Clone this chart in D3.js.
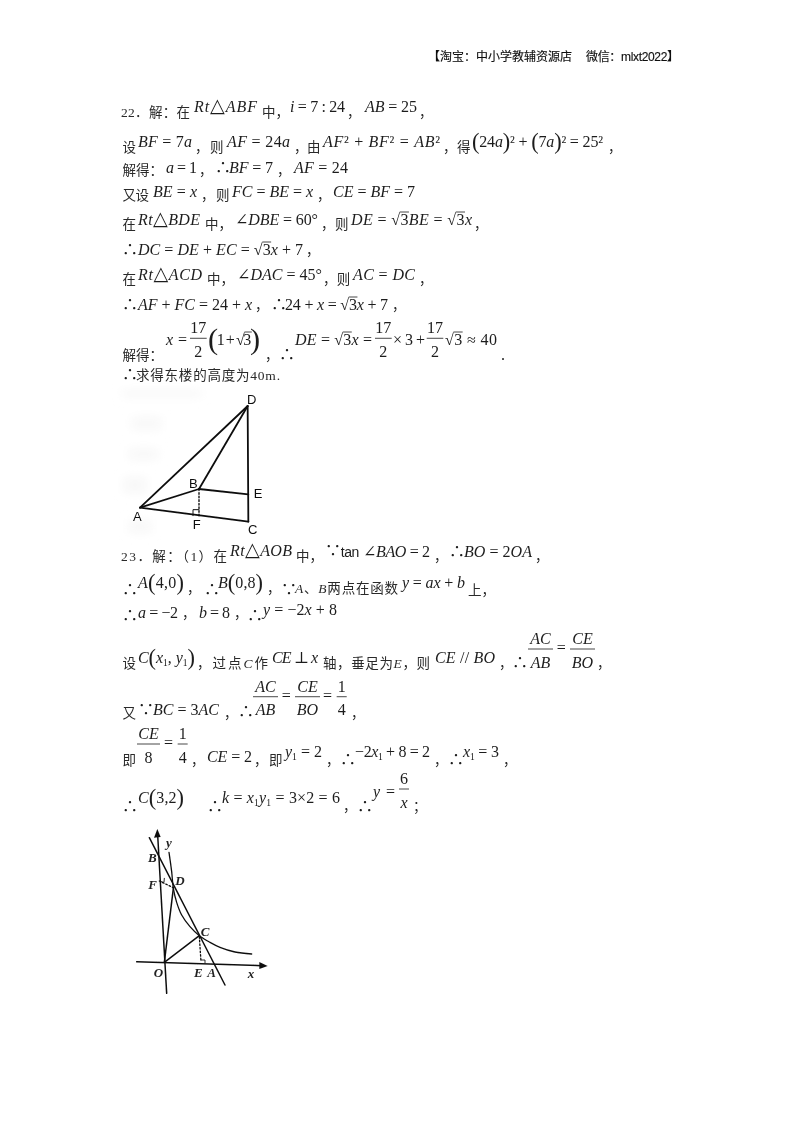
<!DOCTYPE html>
<html><head><meta charset="utf-8">
<script src="https://cdn.jsdelivr.net/npm/d3@7"></script>
<style>html,body{margin:0;padding:0;background:#fff}svg{display:block}</style>
</head><body><div id="page"></div>
<script>
// ---------- content ----------
const headerText = "【淘宝：中小学教辅资源店";
const headerText2 = "微信：mlxt2022】";

const lineTexts = [
 ["c|22．解：在","m|Rt△ABF","c|中，","m|i = 7 : 24","c|，","m|AB = 25","c|，"],
 ["c|设","m|BF = 7a","c|，","c|则","m|AF = 24a","c|，","c|由","m|AF² + BF² = AB²","c|，","c|得","m|(24a)² + (7a)² = 25²","c|，"],
 ["c|解得：","m|a = 1","c|，","m|∴","m|BF = 7","c|，","m|AF = 24"],
 ["c|又设","m|BE = x","c|，","c|则","m|FC = BE = x","c|，","m|CE = BF = 7"],
 ["c|在","m|Rt△BDE","c|中，","m|∠DBE = 60°","c|，","c|则","m|DE = √3BE = √3x","c|，"],
 ["m|∴","m|DC = DE + EC = √3x + 7","c|，"],
 ["c|在","m|Rt△ACD","c|中，","m|∠DAC = 45°","c|，","c|则","m|AC = DC","c|，"],
 ["m|∴","m|AF + FC = 24 + x","c|，","m|∴","m|24 + x = √3x + 7","c|，"],
 ["c|解得：","m|x =","p|(1 + √3)","c|，","m|∴","m|DE = √3x =","m|× 3 +","m|√3 ≈ 40","m|."],
 ["m|∴","c|求得东楼的高度为40m."],
 ["c|23．解：（1）在","m|Rt△AOB","c|中，","m|∵","u|tan","m|∠BAO = 2","c|，","m|∴","m|BO = 2OA","c|，"],
 ["m|∴","m|A(4,0)","c|，","m|∴","m|B(0,8)","c|，","m|∵","i|A、B 两点在函数","m|y = ax + b","c|上，"],
 ["m|∴","m|a = −2","c|，","m|b = 8","c|，","m|∴","m|y = −2x + 8"],
 ["c|设","m|C(x~1, y~1)","i|，过点 C 作","m|CE ⊥ x","i|轴，垂足为 E，则","m|CE // BO","c|，","m|∴","m|=","c|，"],
 ["c|又","m|∵","m|BC = 3AC","c|，","m|∴","m|=","m|=","c|，"],
 ["c|即","m|=","c|，","m|CE = 2","c|，","c|即","m|y~1 = 2","c|，","m|∴","m|−2x~1 + 8 = 2","c|，","m|∴","m|x~1 = 3","c|，"],
 ["m|∴","m|C(3,2)","m|∴","m|k = x~1y~1 = 3×2 = 6","c|，","m|∴","m|y =","c|；"]
];

const fractionNumerators   = ["17","17","17","AC","CE","AC","CE","1","CE","1","6"];
const fractionDenominators = ["2","2","2","AB","BO","AB","BO","4","8","4","x"];

const figure1Labels = ["D","A","B","E","F","C"];
const figure2Labels = ["y","B","F","D","C","O","E","A","x"];

// figure coordinates, in each figure's own units
const fig1Points = {D:[443,78],A:[120,383],B:[297,327],E:[445,343],C:[445,425],F:[297,410]};
const fig1Segments = [["A","D"],["A","B"],["B","D"],["B","E"],["A","C"],["D","C"]];
const fig1Dotted = [[[297,327],[297,410]]];
const fig1Mark = [[279,407],[279,389],[297,389]];
const fig1LabelAt = [[455,58],[112,410],[280,310],[474,340],[290,432],[458,448]];
const fig1Smudges = [[65,30,240,22],[95,110,90,40],[85,205,90,35],[70,290,70,50],[85,420,70,40]];

const fig2Axes = [[[50,410],[425,422]],[[140,505],[113,30]]];
const fig2Lines = [[[88,38],[315,480]],[[133,412],[160,190]],[[133,412],[238,332]]];
const fig2Curve = [[147,82],[155,140],[160,190],[170,232],[185,270],[210,305],[238,332],[270,352],[300,367],[345,381],[395,387]];
const fig2Dotted = [[[238,335],[243,410]],[[118,168],[160,188]]];
const fig2Marks = [[[243,405],[255,405],[255,414]],[[122,170],[132,172],[133,160]]];
const fig2Arrows = [[[443,423],[418,411],[418,432]],[[112,12],[102,38],[122,36]]];
const fig2LabelAt = [[147,52],[97,97],[98,178],[180,167],[255,320],[115,442],[235,443],[275,443],[393,447]];

// ---------- layout ----------
const lineBoxes = [
 [[121,190,116.7],[194,257,111.7],[262,null,116.7],[290,345,111.7],[347,null,116.7],[365,417,111.7],[419,null,116.7]],
 [[122.5,null,151.7],[138,192,146.7],[195,null,151.7],[210,null,151.7],[227,290,146.7],[294,null,151.7],[307,null,151.7],[323,440,146.7],[443,null,151.7],[457,null,151.7],[472,603,146.7],[608,null,151.7]],
 [[122.5,null,175],[166,197,173],[199,null,175],[215,null,173],[229,273,173],[277,null,175],[294,348,173]],
 [[122.5,149,200],[153,197,196.7],[201,null,200],[216,null,200],[232,313,196.7],[317,null,200],[333,415,196.7]],
 [[122.5,null,229.3],[138,200,225],[205,null,229.3],[235,318,225],[321,null,229.3],[335,null,229.3],[351,472,225],[474,null,229.3]],
 [[122,null,255],[138,303,255],[306,null,255]],
 [[122.5,null,284.3],[138,202,280],[207,null,284.3],[237,322,280],[323,null,284.3],[336.7,null,284.3],[353,415,280],[419,null,284.3]],
 [[122,null,310],[138,252,310],[255,null,310],[271,null,310],[285,388,310],[392,null,310]],
 [[122.5,null,360],[166,187,345],[208,260,345],[265,null,360],[279,null,360],[295,372,345],[393,425,345],[445,497,345],[501,null,360]],
 [[122,null,380],[136,280,380]],
 [[121,227,560.7],[230,292,556],[296,null,560.7],[325,null,556],[340.7,359.3,556.7],[363,430,556.7],[434,null,560.7],[449,null,556.7],[464,532,556.7],[535,null,560.7]],
 [[122,null,595],[138,184,588],[187,null,593.3],[204,null,595],[218,263,588],[267,null,593.3],[281,null,595],[295,398,593.3],[402,465,588],[468,null,595]],
 [[122,null,621],[138,178,618.3],[182,null,618.3],[199,230,618.3],[234,null,618.3],[247,null,621],[263,337,615]],
 [[122.5,null,668.3],[138,195,663],[197,268,668.3],[272,318,663],[323,430,668.3],[435,495,663],[499,null,668.3],[512,null,668.3],[556.7,566,653],[597,null,668.3]],
 [[122.5,null,718.3],[138,null,715],[153,219,715],[224,null,718.3],[238,null,717],[281.7,291.7,701],[323,333,701],[351,null,718.3]],
 [[122.5,null,765],[164,174,748],[191,null,765],[207,252,761.7],[254,null,765],[269,null,765],[285,322,757.3],[326,null,765],[340,null,765],[355,430,757.3],[434,null,765],[448,null,765],[463,499,757.3],[503,null,765]],
 [[122,null,811.7],[138,184,802.7],[207,null,811.7],[222,340,803],[343,null,811],[357,null,811.7],[373,395,796.7],[413,null,811]]
];
const fractionBoxes = [
 [190,206.7,338.3],[375,391.7,338.3],[426.7,443.3,338.3],
 [528,553,649],[570,595,649],[253,278,696.7],[295,320,696.7],[336.7,346.7,696.7],
 [137,160,744],[177.7,187.7,744],[399,409,789]
];

const W = 800, H = 1132;
const svg = d3.select("#page").append("svg").attr("width",W).attr("height",H).attr("viewBox",[0,0,W,H]);
svg.append("rect").attr("width",W).attr("height",H).attr("fill","#fff");
const defs = svg.append("defs");
[["soft",0.4],["softer",0.6],["smudge",5]].forEach(([id,s])=>
  defs.append("filter").attr("id",id).attr("x","-20%").attr("y","-20%").attr("width","140%").attr("height","140%")
    .append("feGaussianBlur").attr("stdDeviation",s));

const SERIF = '"Liberation Serif","Noto Sans CJK SC","DejaVu Serif",serif';
const MATH  = '"Liberation Serif","DejaVu Serif","Noto Sans CJK SC",serif';
const textLayer = svg.append("g").attr("filter","url(#soft)");

function addMath(t, str, size, parenScale){
  // letters italic, digits upright, ~1 subscript, parens scaled
  const re = /~(\d)|([A-Za-z]+)|([()])|(△)|([^A-Za-z()~△]+)/g;
  let m;
  while((m = re.exec(str))){
    const s = t.append("tspan");
    if(m[1]) s.text(m[1]).attr("font-size",size*0.6).attr("baseline-shift","-3");
    else if(m[2]) s.text(m[2]).attr("font-style","italic");
    else if(m[3]) s.text(m[3]).attr("font-size",size*parenScale).attr("baseline-shift",-(parenScale-1)*size*0.25).attr("font-weight",300);
    else if(m[4]) s.text(m[4]).attr("font-size",size*1.2);
    else s.text(m[5]);
  }
}

function placeRun(run, box){
  const k = run.indexOf("|");
  const kind = run.slice(0,k), str = run.slice(k+1);
  const [x0,x1,y] = box;
  const t = textLayer.append("text").attr("x",x0).attr("y",y).attr("fill","#1c1c1c");
  if(kind==="c" || kind==="i"){
    t.attr("font-family",SERIF).attr("font-size",13.5).attr("fill","#2a2a2a");
    if(kind==="i"){
      str.split(/([A-Z])/).forEach(p=>{ if(!p) return;
        const s=t.append("tspan").text(p.trim());
        if(/^[A-Z]$/.test(p)) s.attr("font-style","italic").attr("font-family",MATH);
      });
    } else t.text(str);
  } else if(kind==="u"){
    t.attr("font-family",'"Liberation Sans",sans-serif').attr("font-size",14).text(str);
  } else {
    t.attr("font-family",MATH).attr("font-size",16);
    addMath(t,str,16,kind==="p"?1.9:1.4);
  }
  if(x1!==null){ t.attr("textLength",x1-x0).attr("lengthAdjust","spacing"); }
  // radical overline
  const full = t.text();
  for(let i=0;i<full.length-1;i++){
    if(full[i]==="√"){
      const a=t.node().getEndPositionOfChar(i), b=t.node().getEndPositionOfChar(i+1);
      textLayer.append("line").attr("x1",a.x-0.3).attr("x2",b.x+0.5)
        .attr("y1",y-13).attr("y2",y-13).attr("stroke","#1c1c1c").attr("stroke-width",0.8);
    }
  }
}
lineTexts.forEach((runs,i)=>runs.forEach((r,j)=>placeRun(r,lineBoxes[i][j])));

// header
textLayer.append("text").attr("x",428).attr("y",60.7).attr("font-family",'"Noto Sans CJK SC"').attr("font-size",12).attr("fill","#111").attr("stroke","#111").attr("stroke-width",0.15).text(headerText);
textLayer.append("text").attr("x",586).attr("y",60.7).attr("textLength",93).attr("font-family",'"Liberation Sans","Noto Sans CJK SC"').attr("font-size",12).attr("fill","#111").attr("stroke","#111").attr("stroke-width",0.15).text(headerText2);

// fractions
fractionNumerators.forEach((n,i)=>{
  const [x0,x1,b]=fractionBoxes[i], c=(x0+x1)/2;
  textLayer.append("line").attr("x1",x0).attr("x2",x1).attr("y1",b).attr("y2",b).attr("stroke","#1c1c1c").attr("stroke-width",0.8);
  [[n,b-5],[fractionDenominators[i],b+18.5]].forEach(([s,y])=>{
    const t=textLayer.append("text").attr("x",c).attr("y",y).attr("text-anchor","middle")
      .attr("font-family",MATH).attr("font-size",16).attr("fill","#1c1c1c");
    addMath(t,s,16,1);
  });
});

// figure 1
const x1s=d3.scaleLinear().domain([0,600]).range([100,300]);
const y1s=d3.scaleLinear().domain([0,510]).range([380,550]);
const line1=d3.line().x(d=>x1s(d[0])).y(d=>y1s(d[1]));
const smudge=svg.append("g").attr("filter","url(#smudge)");
smudge.selectAll("rect").data(fig1Smudges).join("rect")
  .attr("x",d=>x1s(d[0])).attr("y",d=>y1s(d[1]))
  .attr("width",d=>x1s(d[0]+d[2])-x1s(d[0])).attr("height",d=>y1s(d[1]+d[3])-y1s(d[1]))
  .attr("fill","#f8f8f8");
const f1=svg.append("g").attr("filter","url(#softer)").attr("fill","none").attr("stroke","#111").attr("stroke-linecap","round");
fig1Segments.forEach(([a,b])=>f1.append("path").attr("d",line1([fig1Points[a],fig1Points[b]])).attr("stroke-width",1.8));
fig1Dotted.forEach(s=>f1.append("path").attr("d",line1(s)).attr("stroke-width",1.4).attr("stroke-dasharray","1.6 2"));
f1.append("path").attr("d",line1(fig1Mark)).attr("stroke-width",1);
const l1=svg.append("g").attr("filter","url(#soft)").attr("font-family",'"Liberation Sans",sans-serif').attr("font-size",13).attr("fill","#111").attr("text-anchor","middle");
figure1Labels.forEach((s,i)=>l1.append("text").attr("x",x1s(fig1LabelAt[i][0])).attr("y",y1s(fig1LabelAt[i][1])).attr("dy","0.36em").text(s));

// figure 2
const x2s=d3.scaleLinear().domain([0,510]).range([120,290]);
const y2s=d3.scaleLinear().domain([0,525]).range([825,1000]);
const line2=d3.line().x(d=>x2s(d[0])).y(d=>y2s(d[1]));
const f2=svg.append("g").attr("filter","url(#softer)").attr("fill","none").attr("stroke","#111").attr("stroke-linecap","round");
fig2Axes.concat(fig2Lines).forEach(s=>f2.append("path").attr("d",line2(s)).attr("stroke-width",1.5));
f2.append("path").attr("d",line2.curve(d3.curveCatmullRom)(fig2Curve)).attr("stroke-width",1.3);
line2.curve(d3.curveLinear);
fig2Dotted.forEach(s=>f2.append("path").attr("d",line2(s)).attr("stroke-width",1.3).attr("stroke-dasharray","1.6 2"));
fig2Marks.forEach(s=>f2.append("path").attr("d",line2(s)).attr("stroke-width",0.9));
fig2Arrows.forEach(s=>f2.append("path").attr("d",line2(s)+"Z").attr("fill","#111").attr("stroke","none"));
const l2=svg.append("g").attr("filter","url(#soft)").attr("font-family",MATH).attr("font-style","italic").attr("font-weight","bold").attr("font-size",13).attr("fill","#222").attr("text-anchor","middle");
figure2Labels.forEach((s,i)=>l2.append("text").attr("x",x2s(fig2LabelAt[i][0])).attr("y",y2s(fig2LabelAt[i][1])).attr("dy","0.33em").text(s));
</script></body></html>
